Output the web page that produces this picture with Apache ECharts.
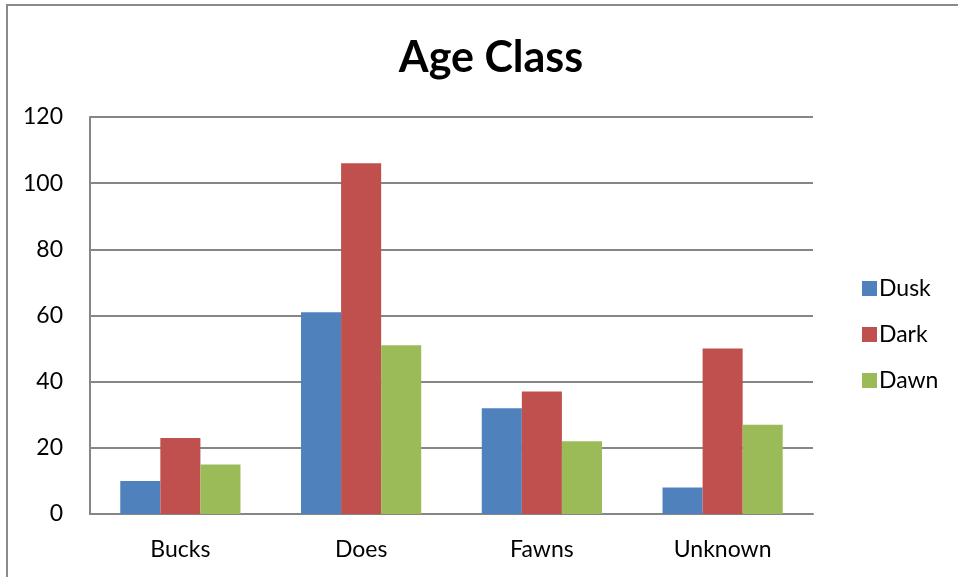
<!DOCTYPE html>
<html>
<head>
<meta charset="utf-8">
<script src="https://cdn.jsdelivr.net/npm/echarts@6/dist/echarts.min.js"></script>
<style>
  html, body { margin: 0; padding: 0; background: #fff; }
  #frame { position: absolute; left: 6px; top: 4px; width: 980px; height: 600px; border: 2px solid #8a8a8a; box-sizing: border-box; }
  #chart { position: absolute; left: 0; top: 0; width: 958px; height: 577px; }
</style>
</head>
<body>
<div id="frame"></div>
<div id="chart"></div>
<script>
// Sightings by age class across three time-of-day periods
const categories = ['Bucks', 'Does', 'Fawns', 'Unknown'];
const dusk = [10, 61, 32, 8];
const dark = [23, 106, 37, 50];
const dawn = [15, 51, 22, 27];
const yTicks = { min: 0, max: 120, interval: 20 };

const font = 'Lato, "Open Sans", "DejaVu Sans", sans-serif';
const chart = echarts.init(document.getElementById('chart'), null, { renderer: 'canvas' });

chart.setOption({
  backgroundColor: 'transparent',
  animation: false,
  title: {
    text: 'Age Class',
    left: 486, top: 32, textAlign: 'center',
    textStyle: { fontFamily: font, fontSize: 43, fontWeight: 'bold', color: '#000' }
  },
  legend: {
    orient: 'vertical',
    left: 857, top: 272,
    itemWidth: 15, itemHeight: 15, itemGap: 23,
    icon: 'rect',
    textStyle: { fontFamily: font, fontSize: 23, color: '#000', padding: [0, 0, 0, -3] },
    data: ['Dusk', 'Dark', 'Dawn']
  },
  grid: { left: 90, right: 145, top: 117, bottom: 63, containLabel: false },
  xAxis: {
    type: 'category',
    data: categories,
    axisLine: { lineStyle: { color: '#868686', width: 2 } },
    axisTick: { show: false },
    axisLabel: { fontFamily: font, fontSize: 23, color: '#000', margin: 24 }
  },
  yAxis: {
    type: 'value',
    min: yTicks.min, max: yTicks.max, interval: yTicks.interval,
    axisLine: { show: true, lineStyle: { color: '#868686', width: 2 } },
    axisTick: { show: false },
    splitLine: { lineStyle: { color: '#868686', width: 2 } },
    axisLabel: { fontFamily: font, fontSize: 23, color: '#000', margin: 27 }
  },
  series: [
    { name: 'Dusk', type: 'bar', data: dusk, itemStyle: { color: '#4f81bd' }, barGap: '0%', barCategoryGap: '33.5%' },
    { name: 'Dark', type: 'bar', data: dark, itemStyle: { color: '#c0504d' } },
    { name: 'Dawn', type: 'bar', data: dawn, itemStyle: { color: '#9bbb59' } }
  ]
});
</script>
</body>
</html>
